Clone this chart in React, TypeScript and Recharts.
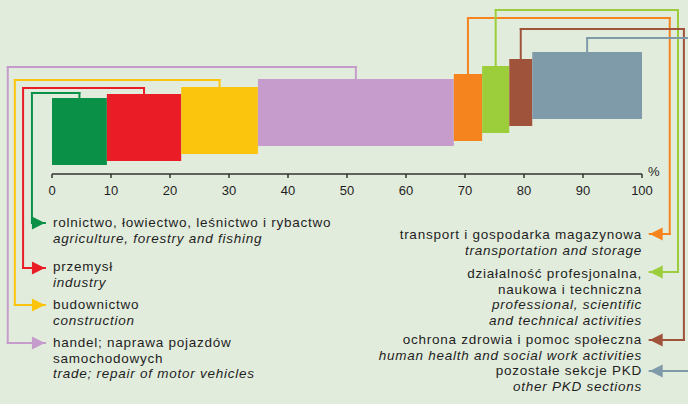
import { ComposedChart, ReferenceArea, ReferenceDot, ReferenceLine, XAxis, YAxis } from "recharts";

// sections of the economy, share of total (%)
const SECTIONS = [
  "agriculture",
  "industry",
  "construction",
  "trade",
  "transport",
  "professional",
  "health",
  "other",
];
const SHARES = [9.3, 12.6, 13.0, 33.2, 4.8, 4.6, 3.9, 18.6];
const COLORS = ["#0b9047", "#ea1c26", "#fcc50d", "#c59ccb", "#f5841f", "#9ccd3b", "#a0533b", "#7f9aa9"];
const TICKS = [0, 10, 20, 30, 40, 50, 60, 70, 80, 90, 100];

// stepped layout of the boxes (units above the axis)
const LIFTS = [9, 13, 20, 28, 33, 41, 48, 55];
const BOX_HEIGHT = 67;
// leader lines: top level, side x (%), legend row level, arrow tip x (%)
const LEADER_LEVEL = [81, 86, 94, 107, 156, 164, 145, 136];
const LEADER_SIDE = [-3.4, -4.9, -6.3, -7.5, 104.7, 106.1, 107.1, 112];
const LEGEND_ROW = [-49, -94, -131, -169, -60, -98, -166, -197];
const LEFT_TIP = -1.2;
const RIGHT_TIP = 101.3;

const LEFT_LABELS = [
  { pl: ["rolnictwo, łowiectwo, leśnictwo i rybactwo"], en: ["agriculture, forestry and fishing"], top: 215 },
  { pl: ["przemysł"], en: ["industry"], top: 259 },
  { pl: ["budownictwo"], en: ["construction"], top: 297 },
  { pl: ["handel; naprawa pojazdów", "samochodowych"], en: ["trade; repair of motor vehicles"], top: 335 },
];
const RIGHT_LABELS = [
  { pl: ["transport i gospodarka magazynowa"], en: ["transportation and storage"], top: 227 },
  {
    pl: ["działalność profesjonalna,", "naukowa i techniczna"],
    en: ["professional, scientific", "and technical activities"],
    top: 266,
  },
  { pl: ["ochrona zdrowia i pomoc społeczna"], en: ["human health and social work activities"], top: 332 },
  { pl: ["pozostałe sekcje PKD"], en: ["other PKD sections"], top: 363 },
];

const FONT = "'Liberation Sans', Arial, sans-serif";

const starts = SHARES.map((_, i) => SHARES.slice(0, i).reduce((a, b) => a + b, 0));
const boxes = SECTIONS.map((name, i) => ({
  name,
  x1: starts[i],
  x2: starts[i] + SHARES[i],
  mid: starts[i] + SHARES[i] / 2,
  y1: LIFTS[i],
  y2: LIFTS[i] + BOX_HEIGHT,
  color: COLORS[i],
  level: LEADER_LEVEL[i],
  side: LEADER_SIDE[i],
  row: LEGEND_ROW[i],
  left: i < 4,
}));

function Arrow({ cx, cy, fill, left }: { cx?: number; cy?: number; fill: string; left: boolean }) {
  if (cx == null || cy == null) return null;
  const d = left ? -13 : 13;
  return <polygon points={`${cx + d},${cy - 6.5} ${cx},${cy} ${cx + d},${cy + 6.5}`} fill={fill} />;
}

function LabelBlock({ pl, en, top, align }: { pl: string[]; en: string[]; top: number; align: "left" | "right" }) {
  const pos = align === "left" ? { left: 53 } : { right: 46 };
  return (
    <div
      style={{
        position: "absolute",
        top,
        ...pos,
        textAlign: align,
        fontFamily: FONT,
        fontSize: 13.5,
        letterSpacing: 0.75,
        lineHeight: "15.5px",
        color: "#1e1e1e",
        whiteSpace: "nowrap",
      }}
    >
      {pl.map((t) => (
        <div key={t}>{t}</div>
      ))}
      {en.map((t) => (
        <div key={t} style={{ fontStyle: "italic" }}>
          {t}
        </div>
      ))}
    </div>
  );
}

export default function App() {
  return (
    <div style={{ position: "relative", width: 688, height: 404, background: "#e2ecdc", overflow: "hidden" }}>
      <style>{"body{margin:0}"}</style>
      <ComposedChart width={688} height={404} data={boxes} margin={{ top: 0, right: 46, bottom: 200, left: 52 }}>
        <XAxis
          type="number"
          dataKey="mid"
          domain={[0, 100]}
          ticks={TICKS}
          allowDataOverflow
          stroke="#333"
          strokeWidth={1.5}
          tickSize={4}
          tickMargin={8}
          tick={{ fill: "#1e1e1e", fontSize: 13, fontFamily: FONT }}
        />
        <YAxis type="number" domain={[0, 174]} allowDataOverflow hide />
        {boxes.map((b) => (
          <ReferenceArea
            key={b.name}
            x1={b.x1}
            x2={b.x2}
            y1={b.y1}
            y2={b.y2}
            fill={b.color}
            fillOpacity={1}
            stroke="none"
            ifOverflow="visible"
          />
        ))}
        {boxes.map((b) => {
          const tip = b.left ? LEFT_TIP : RIGHT_TIP;
          const pts = [
            { x: b.mid, y: b.y2 },
            { x: b.mid, y: b.level },
            { x: b.side, y: b.level },
            { x: b.side, y: b.row },
            { x: tip, y: b.row },
          ];
          return pts.slice(1).map((p, k) => (
            <ReferenceLine
              key={`${b.name}-${k}`}
              segment={[pts[k], p]}
              stroke={b.color}
              strokeWidth={2}
              strokeLinecap="square"
              ifOverflow="visible"
            />
          ));
        })}
        {boxes.map((b) => (
          <ReferenceDot
            key={`${b.name}-arrow`}
            x={b.left ? LEFT_TIP : RIGHT_TIP}
            y={b.row}
            ifOverflow="visible"
            shape={(p: { cx?: number; cy?: number }) => <Arrow cx={p.cx} cy={p.cy} fill={b.color} left={b.left} />}
          />
        ))}
      </ComposedChart>
      <div style={{ position: "absolute", left: 648, top: 164, fontFamily: FONT, fontSize: 13, color: "#1e1e1e" }}>
        %
      </div>
      {LEFT_LABELS.map((l) => (
        <LabelBlock key={l.top} {...l} align="left" />
      ))}
      {RIGHT_LABELS.map((l) => (
        <LabelBlock key={l.top} {...l} align="right" />
      ))}
    </div>
  );
}
